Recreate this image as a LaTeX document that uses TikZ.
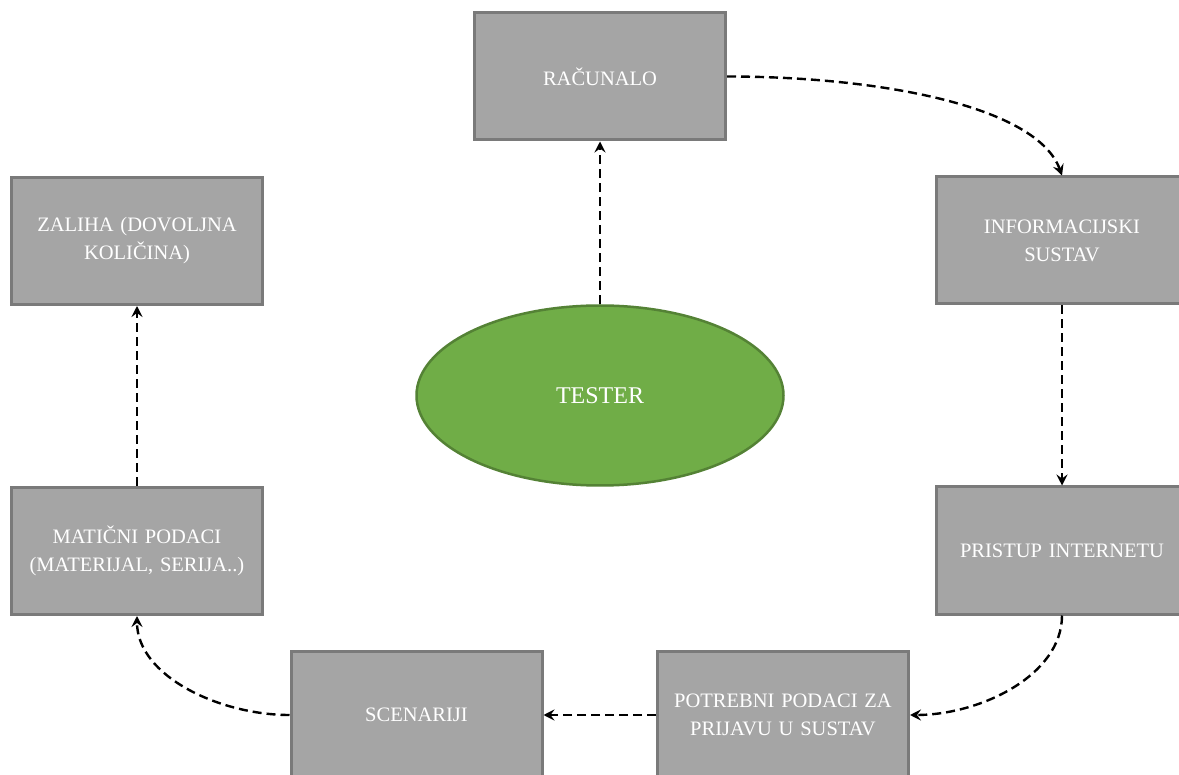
\documentclass[tikz,border=0pt]{standalone}
\usepackage{fontspec}
\setmainfont{Liberation Serif}
\usetikzlibrary{arrows.meta,shapes.geometric}
\definecolor{boxfill}{HTML}{A5A5A5}
\definecolor{boxline}{HTML}{7A7A7A}
\definecolor{ellfill}{HTML}{70AD47}
\definecolor{ellline}{HTML}{548235}
\begin{document}
\begin{tikzpicture}[x=1pt,y=-1pt,
  gbox/.style={rectangle,draw=boxline,fill=boxfill,line width=3pt,
    minimum width=251pt,minimum height=127pt,text width=236pt,align=center,
    text=white,font=\fontsize{20.5}{28}\selectfont,inner sep=0pt},
  gell/.style={ellipse,draw=ellline,fill=ellfill,line width=2.5pt,
    minimum width=367pt,minimum height=180pt,inner sep=0pt,
    text=white,font=\fontsize{24}{28}\selectfont},
  conn/.style={line width=2.4pt,dash pattern=on 9pt off 5pt,
    -{Stealth[length=11pt,width=11pt,inset=4pt]}}]
\clip (0,0) rectangle (1179,775);
\fill[white] (0,0) rectangle (1179,775);
\node[gbox] (rac) at (600,76.5) {RAČUNALO};
\node[gbox] (inf) at (1062,240.5) {INFORMACIJSKI\\SUSTAV};
\node[gbox] (zal) at (137,241) {ZALIHA (DOVOLJNA\\KOLIČINA)};
\node[gbox] (mat) at (137,551) {MATIČNI PODACI\\(MATERIJAL, SERIJA..)};
\node[gbox] (pri) at (1062,550.5) {PRISTUP INTERNETU};
\node[gbox] (pot) at (783,715) {POTREBNI PODACI ZA\\PRIJAVU U SUSTAV};
\node[gbox] (sce) at (416.5,715) {SCENARIJI};
\node[gell] (tes) at (600,395.5) {TESTER};
\draw[conn] (tes.north) -- (rac.south);
\draw[conn] (rac.east) .. controls +(150,0) and +(-25,-70) .. (inf.north);
\draw[conn] (inf.south) -- (pri.north);
\draw[conn] (pri.south) .. controls +(0,60) and +(70,0) .. (pot.east);
\draw[conn] (pot.west) -- (sce.east);
\draw[conn] (sce.west) .. controls +(-70,0) and +(0,60) .. (mat.south);
\draw[conn] (mat.north) -- (zal.south);
\end{tikzpicture}
\end{document}
